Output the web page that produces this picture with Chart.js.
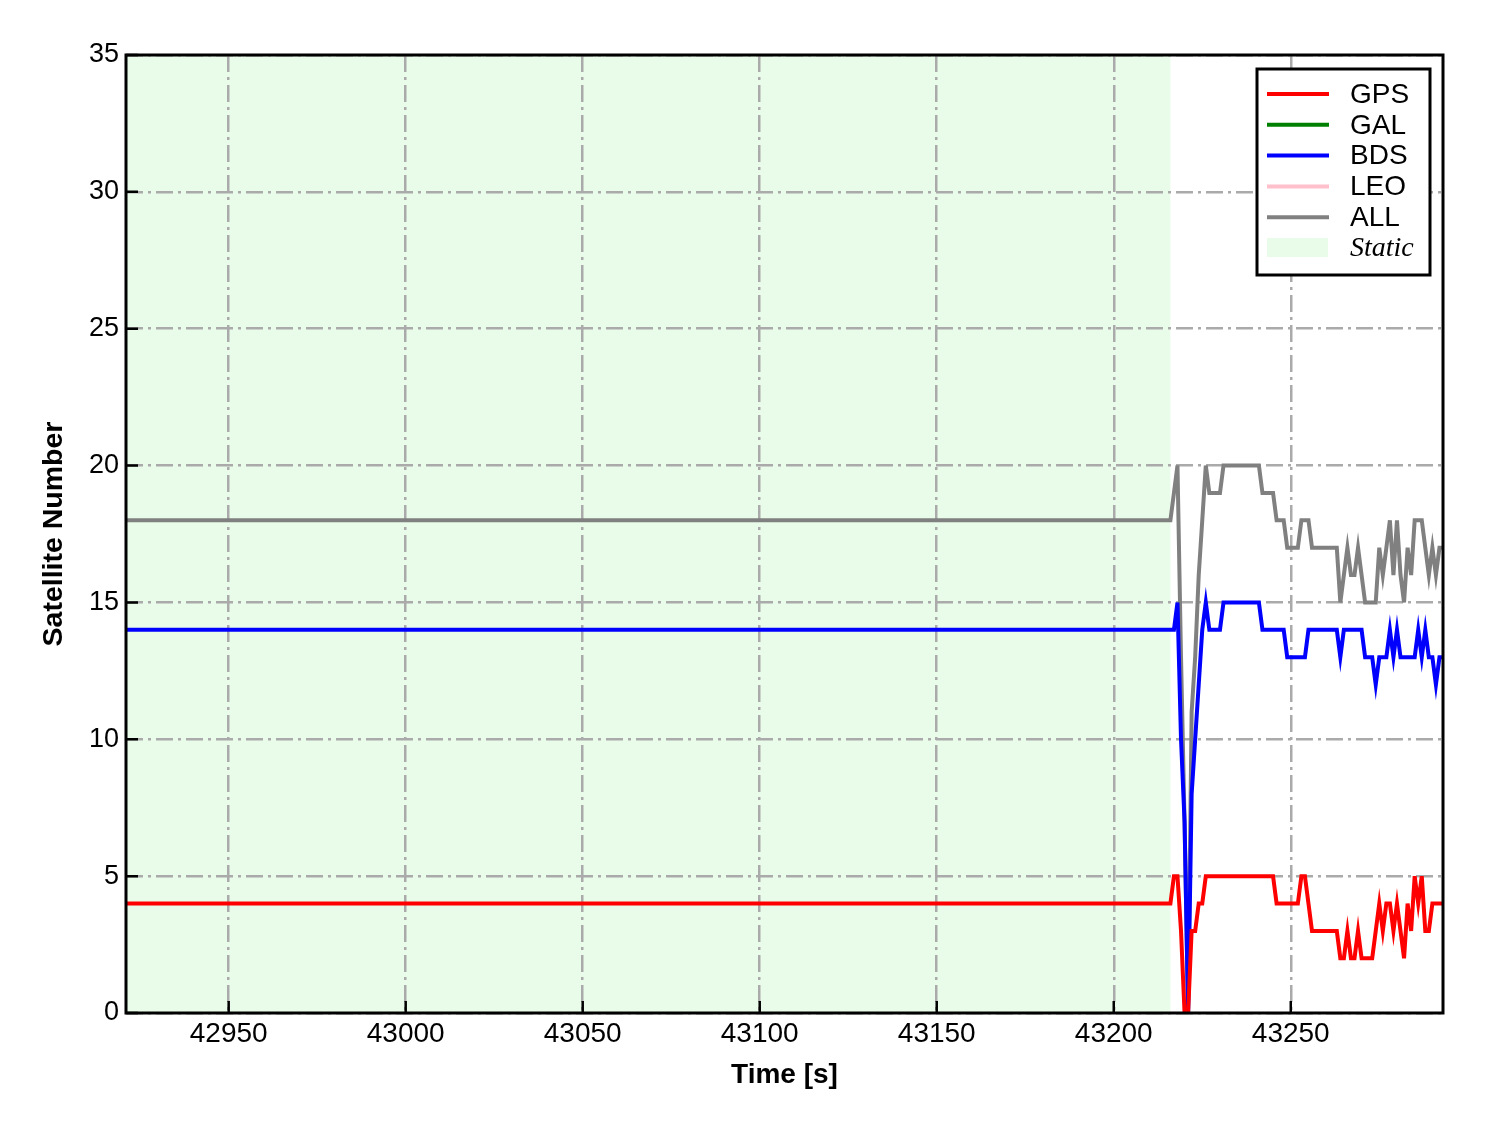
<!DOCTYPE html>
<html>
<head>
<meta charset="utf-8">
<script src="https://cdn.jsdelivr.net/npm/chart.js@4"></script>
<style>
  html, body { margin: 0; padding: 0; background: #fff; }
  canvas { display: block; }
</style>
</head>
<body>
<canvas id="satChart" width="1488" height="1133"></canvas>
<script>
// Time stamps [s] (static part is flat, so only its ends are kept)
const times = [42921, 43216, 43217, 43218, 43219, 43220, 43221, 43222, 43223, 43224, 43225,
  43226, 43227, 43228, 43229, 43230, 43231, 43232, 43233, 43234, 43235, 43236, 43237, 43238,
  43239, 43240, 43241, 43242, 43243, 43244, 43245, 43246, 43247, 43248, 43249, 43250, 43251,
  43252, 43253, 43254, 43255, 43256, 43257, 43258, 43259, 43260, 43261, 43262, 43263, 43264,
  43265, 43266, 43267, 43268, 43269, 43270, 43271, 43272, 43273, 43274, 43275, 43276, 43277,
  43278, 43279, 43280, 43281, 43282, 43283, 43284, 43285, 43286, 43287, 43288, 43289, 43290,
  43291, 43292, 43293];

// Satellite counts per system
const gpsCount = [4, 4, 5, 5, 3, 0, 0, 3, 3, 4, 4,
  5, 5, 5, 5, 5, 5, 5, 5, 5, 5, 5, 5, 5,
  5, 5, 5, 5, 5, 5, 5, 4, 4, 4, 4, 4, 4,
  4, 5, 5, 4, 3, 3, 3, 3, 3, 3, 3, 3, 2,
  2, 3, 2, 2, 3, 2, 2, 2, 2, 3, 4, 3, 4,
  4, 3, 4, 3, 2, 4, 3, 5, 4, 5, 3, 3, 4,
  4, 4, 4];
const galCount = [];
const bdsCount = [14, 14, 14, 15, 10, 7, 0, 8, 10, 12, 14,
  15, 14, 14, 14, 14, 15, 15, 15, 15, 15, 15, 15, 15,
  15, 15, 15, 14, 14, 14, 14, 14, 14, 14, 13, 13, 13,
  13, 13, 13, 14, 14, 14, 14, 14, 14, 14, 14, 14, 13,
  14, 14, 14, 14, 14, 14, 13, 13, 13, 12, 13, 13, 13,
  14, 13, 14, 13, 13, 13, 13, 13, 14, 13, 14, 13, 13,
  12, 13, 13];
const leoCount = [];
const allCount = [18, 18, 19, 20, 13, 7, 0, 11, 13, 16, 18,
  20, 19, 19, 19, 19, 20, 20, 20, 20, 20, 20, 20, 20,
  20, 20, 20, 19, 19, 19, 19, 18, 18, 18, 17, 17, 17,
  17, 18, 18, 18, 17, 17, 17, 17, 17, 17, 17, 17, 15,
  16, 17, 16, 16, 17, 16, 15, 15, 15, 15, 17, 16, 17,
  18, 16, 18, 16, 15, 17, 16, 18, 18, 18, 17, 16, 17,
  16, 17, 17];

// Static period
const staticStart = 42921;
const staticEnd = 43216;

const xTicks = [42950, 43000, 43050, 43100, 43150, 43200, 43250];
const yTicks = [0, 5, 10, 15, 20, 25, 30, 35];

const toPoints = values => values.map((v, i) => ({ x: times[i], y: v }));

const series = [
  { label: 'GPS', data: gpsCount, color: '#ff0000' },
  { label: 'GAL', data: galCount, color: '#008000' },
  { label: 'BDS', data: bdsCount, color: '#0000ff' },
  { label: 'LEO', data: leoCount, color: '#ffc0cb' },
  { label: 'ALL', data: allCount, color: '#808080' }
];

const FONT = '"Liberation Sans", Arial, sans-serif';

// green background for the static part
const staticShade = {
  id: 'staticShade',
  beforeDraw(chart) {
    const { ctx, chartArea, scales } = chart;
    const x0 = Math.max(scales.x.getPixelForValue(staticStart), chartArea.left);
    const x1 = scales.x.getPixelForValue(staticEnd);
    ctx.save();
    ctx.fillStyle = 'rgba(144, 238, 144, 0.2)';
    ctx.fillRect(x0, chartArea.top, x1 - x0, chartArea.bottom - chartArea.top);
    ctx.restore();
  }
};

// frame, inward ticks and legend box
const frameAndLegend = {
  id: 'frameAndLegend',
  afterDraw(chart) {
    const { ctx, chartArea, scales } = chart;
    const { left, right, top, bottom } = chartArea;
    ctx.save();

    // inward tick marks
    ctx.strokeStyle = '#000';
    ctx.lineWidth = 2.5;
    ctx.beginPath();
    xTicks.forEach(t => {
      const px = scales.x.getPixelForValue(t);
      ctx.moveTo(px, bottom);
      ctx.lineTo(px, bottom - 12);
    });
    yTicks.forEach(t => {
      const py = scales.y.getPixelForValue(t);
      ctx.moveTo(left, py);
      ctx.lineTo(left + 12, py);
    });
    ctx.stroke();

    // axes box
    ctx.lineWidth = 3;
    ctx.strokeRect(left, top, right - left, bottom - top);

    // legend
    const bx = right - 186, by = top + 14, bw = 173, bh = 206;
    ctx.fillStyle = '#fff';
    ctx.fillRect(bx, by, bw, bh);
    ctx.strokeStyle = '#000';
    ctx.lineWidth = 3;
    ctx.strokeRect(bx, by, bw, bh);

    ctx.textBaseline = 'middle';
    ctx.textAlign = 'left';
    series.forEach((s, i) => {
      const y = by + 25 + i * 30.8;
      ctx.strokeStyle = s.color;
      ctx.lineWidth = 4;
      ctx.beginPath();
      ctx.moveTo(bx + 10, y);
      ctx.lineTo(bx + 72, y);
      ctx.stroke();
      ctx.fillStyle = '#000';
      ctx.font = '28px ' + FONT;
      ctx.fillText(s.label, bx + 93, y + 1);
    });
    const sy = by + 25 + 5 * 30.8;
    ctx.fillStyle = 'rgba(144, 238, 144, 0.2)';
    ctx.fillRect(bx + 10, sy - 10, 61, 19);
    ctx.fillStyle = '#000';
    ctx.font = 'italic 28px "Liberation Serif", "Times New Roman", serif';
    ctx.fillText('Static', bx + 93, sy + 1);

    ctx.restore();
  }
};

const gridStyle = {
  color: '#aaaaaa',
  lineWidth: 2.5,
  drawTicks: false
};

new Chart(document.getElementById('satChart').getContext('2d'), {
  type: 'line',
  data: {
    datasets: series.map(s => ({
      label: s.label,
      data: toPoints(s.data),
      borderColor: s.color,
      backgroundColor: s.color,
      borderWidth: 4,
      pointRadius: 0,
      tension: 0,
      fill: false
    }))
  },
  options: {
    responsive: false,
    animation: false,
    layout: { padding: { top: 55, right: 45, left: 0, bottom: 0 } },
    plugins: {
      legend: { display: false },
      tooltip: { enabled: false }
    },
    scales: {
      x: {
        type: 'linear',
        min: 42921,
        max: 43293,
        afterBuildTicks: scale => { scale.ticks = xTicks.map(v => ({ value: v })); },
        afterFit: scale => { scale.height = 120; },
        grid: gridStyle,
        border: { display: false, dash: [17, 5, 3, 5] },
        ticks: {
          color: '#000',
          padding: 4,
          maxRotation: 0,
          font: { family: FONT, size: 28 },
          callback: v => String(v)
        },
        title: {
          display: true,
          text: 'Time [s]',
          color: '#000',
          font: { family: FONT, size: 28, weight: 'bold' },
          padding: { top: 0, bottom: 41 }
        }
      },
      y: {
        min: 0,
        max: 35,
        afterBuildTicks: scale => { scale.ticks = yTicks.map(v => ({ value: v })); },
        afterFit: scale => { scale.width = 126; },
        grid: gridStyle,
        border: { display: false, dash: [17, 5, 3, 5] },
        ticks: {
          color: '#000',
          padding: 7,
          font: { family: FONT, size: 27 }
        },
        title: {
          display: true,
          text: 'Satellite Number',
          color: '#000',
          font: { family: FONT, size: 28.5, weight: 'bold' },
          padding: { top: 37, bottom: 0 }
        }
      }
    }
  },
  plugins: [staticShade, frameAndLegend]
});
</script>
</body>
</html>
